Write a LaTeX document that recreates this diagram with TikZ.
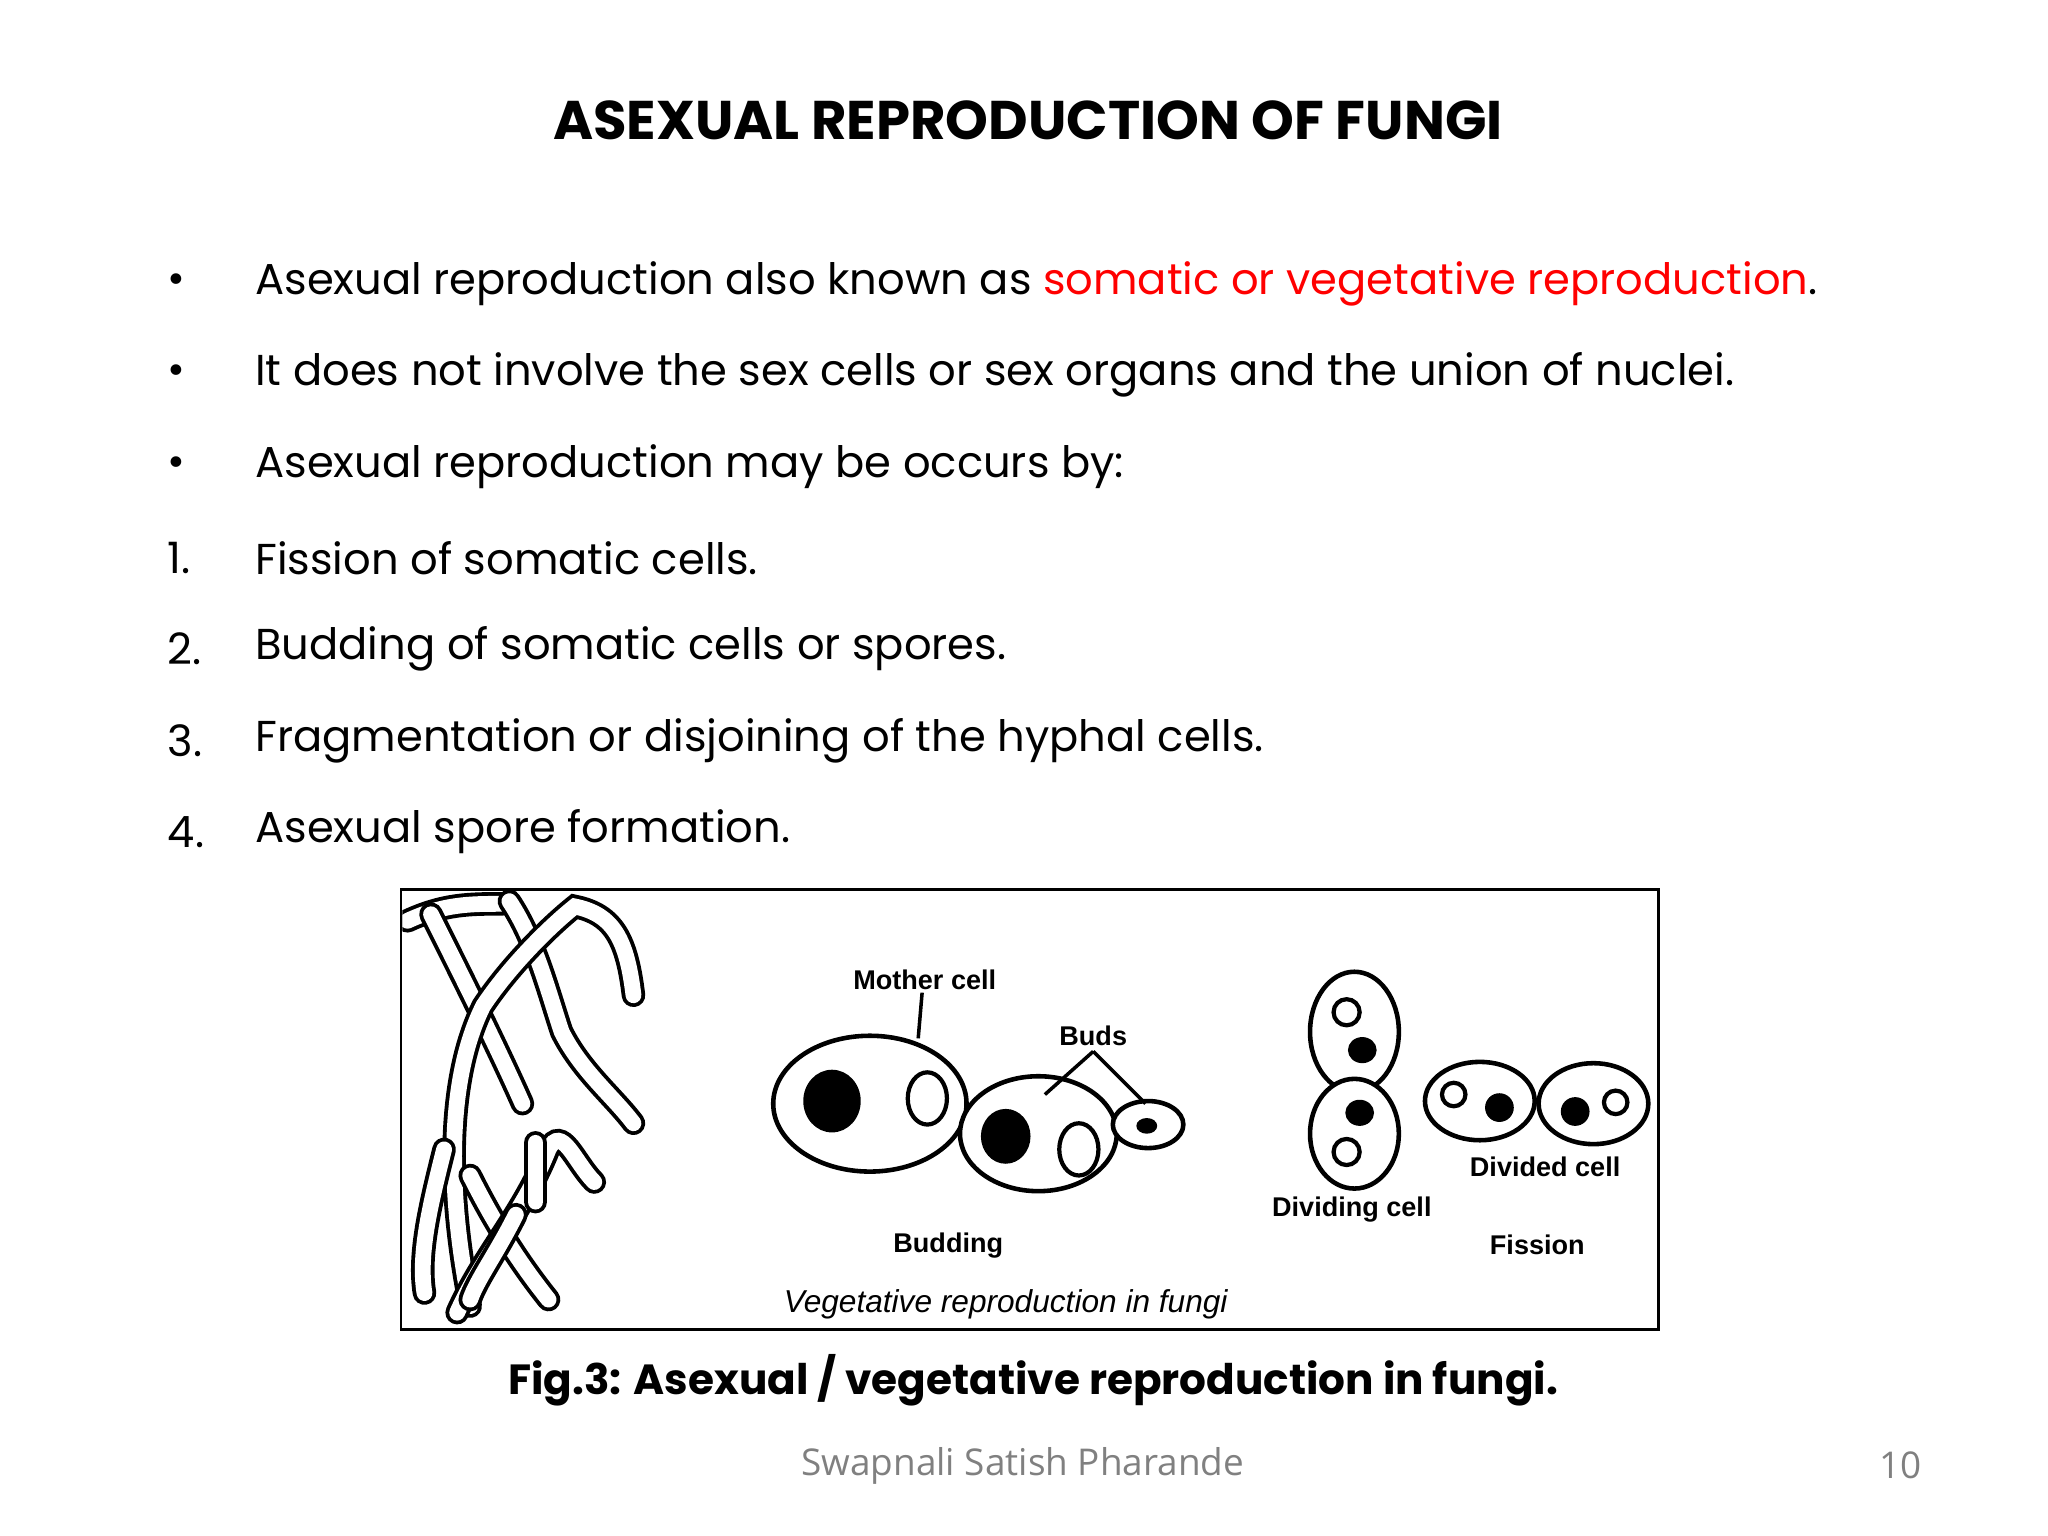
\documentclass[tikz,border=0pt]{standalone}
\usepackage{fontspec}
\setmainfont{Poppins}
\newfontfamily\foot{Open Sans}
\newfontfamily\lab{Liberation Sans}
\begin{document}
\begin{tikzpicture}[x=0.01306cm,y=-0.01306cm,
 body/.style={anchor=west,font=\fontsize{12.3}{14}\selectfont},
 hy/.style={line width=1.1pt,double=white,double distance=4.5pt,line cap=round},
 cell/.style={draw,line width=1.3pt,fill=white},
 lbl/.style={font=\lab\bfseries\fontsize{7.7}{9}\selectfont}]
\useasboundingbox (0,0) rectangle (1568,1176);
\node[font=\bfseries\fontsize{15.5}{18}\selectfont] (title) at (787,92) {ASEXUAL REPRODUCTION OF FUNGI};
\foreach \y/\m in {217/•,287/•,357/•,427/1.,497/2.,567/3.,637/4.}
 \node[body,anchor=west] at (119,\y) {\m};
\node[body] (b1) at (186,217) {Asexual reproduction also known as \textcolor{red}{somatic or vegetative reproduction}.};
\node[body] (b2) at (186,287) {It does not involve the sex cells or sex organs and the union of nuclei.};
\node[body] (b3) at (186,357) {Asexual reproduction may be occurs by:};
\node[body] (n1) at (186,427) {Fission of somatic cells.};
\node[body] (n2) at (186,497) {Budding of somatic cells or spores.};
\node[body] (n3) at (186,567) {Fragmentation or disjoining of the hyphal cells.};
\node[body] (n4) at (186,637) {Asexual spore formation.};
\draw[line width=0.8pt] (307,681) rectangle (1270,1018);
\begin{scope}
\clip (308,682) rectangle (1269,1017);
% hyphae
\draw[hy] (312,705) .. controls (340,692) and (360,692) .. (385,692);
\draw[hy] (330,700) .. controls (350,740) and (380,800) .. (400,845);
\draw[hy] (390,690) .. controls (410,720) and (420,760) .. (430,790) .. controls (445,820) and (470,840) .. (485,860);
\draw[hy] (485,762) .. controls (480,720) and (470,700) .. (440,694) .. controls (420,710) and (390,740) .. (370,770) .. controls (345,820) and (340,900) .. (360,1000);
\draw[hy] (340,880) .. controls (330,920) and (320,960) .. (325,990);
\draw[hy] (360,900) .. controls (380,940) and (400,970) .. (420,995);
\draw[hy] (350,1005) .. controls (370,960) and (400,930) .. (420,880) .. controls (430,860) and (440,890) .. (455,905);
\draw[hy] (395,930) .. controls (380,960) and (365,980) .. (360,995);
\draw[hy] (410,875) -- (410,920);
% budding
\draw[cell] (666,845) ellipse (74 and 52);
\fill (637,843) ellipse (22 and 24);
\draw[line width=1.2pt] (710,841) ellipse (15 and 20);
\draw[cell] (795,868) ellipse (60 and 44);
\fill (770,870) ellipse (19 and 21);
\draw[line width=1.2pt] (826,880) ellipse (15 and 20);
\draw[cell] (879,861) ellipse (27 and 18);
\fill (878,862) ellipse (8 and 6);
\node[lbl] (mc) at (708,750) {Mother cell};
\draw[line width=1pt] (706,760) -- (703,795);
\node[lbl] (bd) at (837,793) {Buds};
\draw[line width=1pt] (837,805) -- (800,838) (837,805) -- (877,845);
\node[lbl] at (726,954) {Budding};
% dividing cell
\draw[cell] (1037,790) ellipse (34 and 46);
\draw[cell] (1037,868) ellipse (34 and 42);
\fill (1043,804) ellipse (11 and 10);
\fill (1041,852) ellipse (11 and 10);
\draw[line width=1.2pt] (1031,775) circle (10);
\draw[line width=1.2pt] (1031,882) circle (10);
\node[lbl] at (1035,926) {Dividing cell};
% divided cell
\draw[cell] (1133,843) ellipse (42 and 30);
\draw[cell] (1220,845) ellipse (42 and 31);
\fill (1148,848) circle (11);
\fill (1206,851) circle (11);
\draw[line width=1.2pt] (1113,838) circle (9);
\draw[line width=1.2pt] (1237,844) circle (9);
\node[lbl] at (1183,893) {Divided cell};
\node[lbl] at (1177,953) {Fission};
\node[font=\lab\itshape\fontsize{9}{11}\selectfont] at (770,999) {Vegetative reproduction in fungi};
\end{scope}
\node[font=\bfseries\fontsize{12}{14}\selectfont] (cap) at (791,1057) {Fig.3: Asexual / vegetative reproduction in fungi.};
\node[font=\foot\fontsize{10.5}{12}\selectfont,text=gray] (au) at (783,1122) {Swapnali Satish Pharande};
\node[font=\foot\fontsize{10.5}{12}\selectfont,text=gray] (pg) at (1455,1122) {10};
\end{tikzpicture}
\end{document}
